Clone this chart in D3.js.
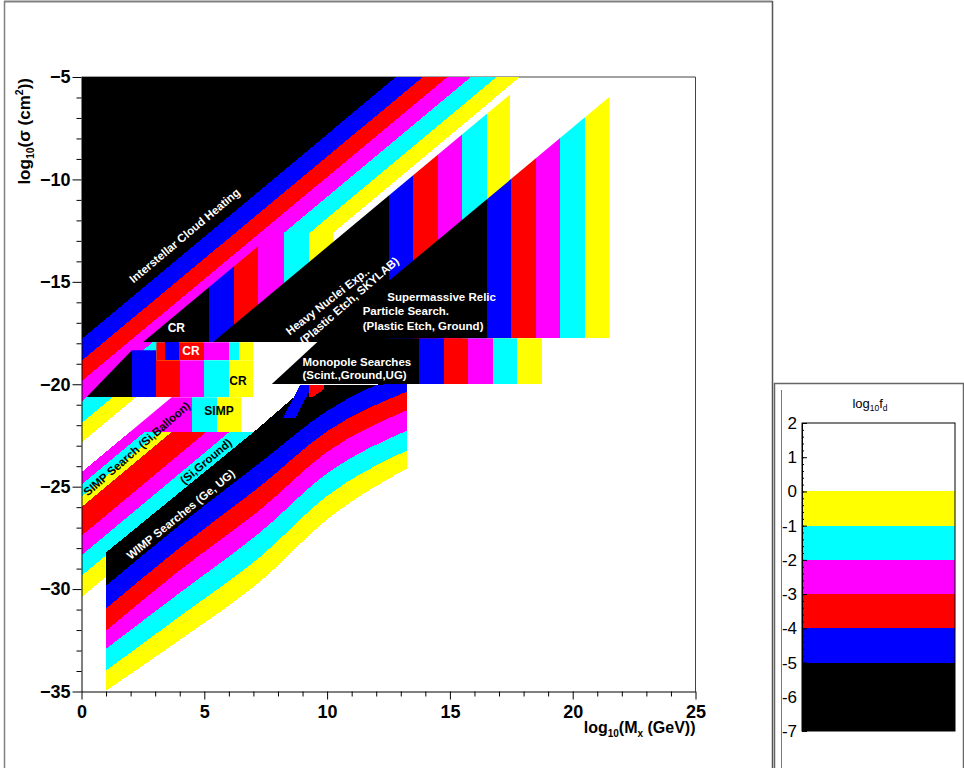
<!DOCTYPE html>
<html><head><meta charset="utf-8">
<script src="https://cdn.jsdelivr.net/npm/d3@7"></script>
<style>body{margin:0;background:#fff}svg{display:block}</style>
</head><body>
<svg id="c" width="964" height="768"></svg>
<script>
// ---------- DATA (log10 M [GeV], log10 sigma [cm^2]) ----------
// colour levels of log10 f_d : 0:<-5 black, 1:-5..-4 blue, 2:-4..-3 red, 3:-3..-2 magenta, 4:-2..-1 cyan, 5:-1..0 yellow
const levelColor = ["#000000","#0000ff","#ff0000","#ff00ff","#00ffff","#ffff00"];
const xTicks = [0,5,10,15,20,25];
const yTicks = [-5,-10,-15,-20,-25,-30,-35];
const legendTicks = [2,1,0,-1,-2,-3,-4,-5,-6,-7];
const legendBounds = [-7,-5,-4,-3,-2,-1,0];

// Interstellar cloud heating: level boundaries (black|blue ... yellow|white)
const ichLeftSigma = [-17.8,-18.85,-19.85,-20.85,-21.9,-22.85]; // log sigma at log M = 0
const ichTopMass   = [12.8,13.9,14.9,15.85,16.9,17.85];         // log M at log sigma = -5

// regions with mass (vertical) bands: band edges in log M for levels 0..5 and outline
const crUpperEdges = [2.5,5.2,6.2,7.2,8.25,9.25,10.25];
const crUpperShape = [[2.5,-17.95],[10.25,-10.2],[10.25,-17.95]];
const crLowEdges   = [0.2,2.05,3.05,4.0,5.0,6.0,7.0];
const crLowShape   = [[0.2,-20.63],[2.05,-18.34],[3.05,-18.34],[3.05,-18.83],[7.0,-18.83],[7.0,-20.63]];
const crTopEdges   = [3.05,3.05,3.05,5.0,6.0,6.4,7.0];
const crTopShape   = [[3.05,-17.95],[7.0,-17.95],[7.0,-18.83],[3.05,-18.83]];
const simpEdges    = [1.96,1.96,1.96,1.96,4.5,5.5,6.5];
const simpShape    = [[1.96,-22.34],[3.67,-20.63],[6.5,-20.63],[6.5,-22.34]];
const heavyEdges   = [5.35,12.5,13.5,14.5,15.5,16.5,17.45];
const heavyShape   = [[5.35,-17.95],[17.45,-5.85],[17.45,-17.95]];
const relicEdges   = [9.72,16.5,17.5,18.5,19.5,20.5,21.5];
const relicShape   = [[9.72,-17.75],[21.5,-5.97],[21.5,-17.75]];
const monoEdges    = [7.74,13.75,14.75,15.75,16.75,17.75,18.75];
const monoShape    = [[9.77,-17.75],[18.75,-17.75],[18.75,-20.0],[7.74,-20.0]];

// SIMP searches with Si detectors: diagonal strips (offset = log sigma - log M)
const balloonOffsets = [-24.3,-24.9,-25.5,-26.0];
const balloonLevels  = [3,4,5];
const groundOffsets  = [-26.0,-27.4,-28.35,-29.35,-30.4];
const groundLevels   = [2,3,4,5];
const siCapSigma     = -22.34;

// WIMP searches (Ge, UG): level boundaries sampled at these masses
const wimpMass = [1.01,3.98,7.3,10.0,13.27];
const wimpTop  = [[1.01,-28.2],[7.1,-22.24],[9.21,-20.05],[13.27,-20.0]];
const wimpBounds = [
  [-29.82,-26.89,-23.8,-21.3,-19.4],
  [-30.94,-28.0,-24.95,-22.3,-20.35],
  [-32.02,-29.1,-26.1,-23.3,-21.27],
  [-32.9,-30.2,-27.2,-24.35,-22.25],
  [-33.97,-31.35,-28.4,-25.45,-23.22],
  [-34.95,-32.5,-29.6,-26.6,-24.1]];

// small extra patches
const extraPatches = [
  {level:1, pts:[[3.41,-17.95],[3.98,-17.95],[3.98,-18.83],[3.41,-18.83]]},
  {level:1, pts:[[8.2,-21.66],[8.9,-20.05],[9.25,-20.05],[9.25,-20.4],[8.7,-21.66]]},
  {level:2, pts:[[9.25,-20.05],[9.86,-20.05],[9.86,-20.25],[9.4,-20.63],[9.25,-20.63]]}];

// annotations
const labels = [
  {t:"Interstellar Cloud Heating", m:4.2,  s:-12.74, a:-40, c:"#fff"},
  {t:"Heavy Nuclei Exp..",         m:10.02,s:-15.94, a:-38, c:"#fff"},
  {t:"(Plastic Etch, SKYLAB)",     m:10.9, s:-15.92, a:-41, c:"#fff"},
  {t:"SIMP Search (Si,Balloon)",   m:2.25, s:-23.15, a:-41, c:"#000"},
  {t:"(Si,Ground)",                m:5.07, s:-23.76, a:-40, c:"#000"},
  {t:"WIMP Searches (Ge, UG)",     m:4.04, s:-26.35, a:-39, c:"#fff"},
  {t:"CR", m:3.86, s:-17.26, a:0, c:"#fff"},
  {t:"CR", m:4.46, s:-18.39, a:0, c:"#fff"},
  {t:"CR", m:6.37, s:-19.85, a:0, c:"#000"},
  {t:"SIMP", m:5.6, s:-21.32, a:0, c:"#000"}];
const blockLabels = [
  {t:"Supermassive Relic",     m:12.45, s:-15.93},
  {t:"Particle Search.",       m:11.45, s:-16.63},
  {t:"(Plastic Etch, Ground)", m:11.45, s:-17.35},
  {t:"Monopole Searches",      m:9.0,  s:-19.1},
  {t:"(Scint.,Ground,UG)",     m:9.0,  s:-19.75}];

// ---------- DRAW ----------
const svg = d3.select("#c");
const defs = svg.append("defs");
const x = d3.scaleLinear().domain([0,25]).range([81.5,695.5]);
const y = d3.scaleLinear().domain([-35,-5]).range([691.5,77]);
const poly = pts => "M" + pts.map(p => x(p[0]) + "," + y(p[1])).join("L") + "Z";
const smooth = d3.line().x(p=>x(p[0])).y(p=>y(p[1])).curve(d3.curveMonotoneX);
const lin = d3.line().x(p=>x(p[0])).y(p=>y(p[1]));

// pad borders
const bc = "#808080";
svg.append("line").attr("x1",4).attr("x2",772.5).attr("y1",1.5).attr("y2",1.5).attr("stroke",bc).attr("stroke-width",2);
svg.append("line").attr("x1",4.5).attr("x2",4.5).attr("y1",1).attr("y2",768).attr("stroke",bc).attr("stroke-width",1.5);
svg.append("line").attr("x1",772.5).attr("x2",772.5).attr("y1",1).attr("y2",768).attr("stroke","#555").attr("stroke-width",1.5);

// frame (top/right)
svg.append("path").attr("d",`M${x(0)},${y(-5)}H${x(25)}V${y(-35)}`).attr("fill","none").attr("stroke","#444").attr("stroke-width",1);

defs.append("clipPath").attr("id","plotclip").append("rect")
  .attr("x",x(0)).attr("y",y(-5)).attr("width",x(25)-x(0)).attr("height",y(-35)-y(-5));

const shapes = [];
shapes.push({level:0, d:poly([[0,-5],[ichTopMass[0],-5],[0,ichLeftSigma[0]]])});
for (let k=1;k<6;k++) shapes.push({level:k, d:poly([[0,ichLeftSigma[k-1]],[ichTopMass[k-1],-5],[ichTopMass[k],-5],[0,ichLeftSigma[k]]])});

const bandRegions = [
  {id:"crup", edges:crUpperEdges, shape:crUpperShape},
  {id:"crlow", edges:crLowEdges, shape:crLowShape},
  {id:"crtop", edges:crTopEdges, shape:crTopShape},
  {id:"simp", edges:simpEdges, shape:simpShape},
  {id:"heavy", edges:heavyEdges, shape:heavyShape},
  {id:"relic", edges:relicEdges, shape:relicShape},
  {id:"mono", edges:monoEdges, shape:monoShape}];
bandRegions.forEach(r => {
  defs.append("clipPath").attr("id","clip-"+r.id).append("path").attr("d",poly(r.shape));
  const ys = r.shape.map(p=>p[1]); const lo=d3.min(ys), hi=d3.max(ys);
  for (let k=0;k<6;k++) if (r.edges[k+1] > r.edges[k])
    shapes.push({level:k, clip:r.id, d:poly([[r.edges[k],hi],[r.edges[k+1],hi],[r.edges[k+1],lo],[r.edges[k],lo]])});
});

function strips(offs, levels, cap){
  levels.forEach((lv,i) => {
    const a=offs[i], b=offs[i+1];
    shapes.push({level:lv, d:poly([[0,a],[cap-a,cap],[cap-b,cap],[0,b]])});
  });
}
strips(balloonOffsets, balloonLevels, siCapSigma);
strips(groundOffsets, groundLevels, siCapSigma);

const wline = k => wimpMass.map((m,i)=>[m,wimpBounds[k][i]]);
const joinPaths = (a,b) => a + b.replace(/^M/,"L") + "Z";
shapes.push({level:0, d: joinPaths(lin(wimpTop), smooth(wline(0).reverse()))});
for (let k=1;k<6;k++) shapes.push({level:k, d: joinPaths(smooth(wline(k-1)), smooth(wline(k).reverse()))});

const ordered = shapes.map((s,i)=>({...s,i})).sort((a,b)=> (b.level-a.level) || (a.i-b.i))
  .concat(extraPatches.map(p=>({level:p.level, d:poly(p.pts)})));

const plot = svg.append("g").attr("clip-path","url(#plotclip)");
plot.selectAll("path.band").data(ordered).join("path")
  .attr("class","band")
  .attr("d", d=>d.d)
  .attr("fill", d=>levelColor[d.level])
  .attr("shape-rendering","crispEdges")
  .attr("clip-path", d=> d.clip ? `url(#clip-${d.clip})` : null);

// labels
const lf = "'Liberation Sans', Arial, sans-serif";
const lg = svg.append("g").attr("font-family",lf).attr("font-weight","bold").attr("font-size","11.5px");
labels.forEach(l => {
  lg.append("text").attr("transform",`translate(${x(l.m)},${y(l.s)}) rotate(${l.a})`)
    .attr("text-anchor","middle").attr("dominant-baseline","central")
    .attr("fill",l.c).attr("font-size", l.a===0 ? "12px" : null).text(l.t);
});
blockLabels.forEach(l => {
  lg.append("text").attr("x",x(l.m)).attr("y",y(l.s)).attr("fill","#fff").text(l.t);
});

// axes
const af = "'Liberation Sans', Arial, sans-serif";
const yAxis = svg.append("g").attr("transform",`translate(${x(0)},0)`)
  .call(d3.axisLeft(y).tickValues(yTicks).tickSize(9).tickSizeOuter(0).tickPadding(2));
svg.append("g").attr("transform",`translate(${x(0)},0)`)
  .call(d3.axisLeft(y).tickValues(d3.range(-35,-4,1).filter(v=>v%5!==0)).tickSize(5).tickSizeOuter(0).tickFormat(""))
  .select(".domain").remove();
const xAxis = svg.append("g").attr("transform",`translate(0,${y(-35)})`)
  .call(d3.axisBottom(x).tickValues(xTicks).tickSize(8).tickSizeOuter(0).tickPadding(6));
svg.append("g").attr("transform",`translate(0,${y(-35)})`)
  .call(d3.axisBottom(x).tickValues(d3.range(0,26,1).filter(v=>v%5!==0)).tickSize(5).tickSizeOuter(0).tickFormat(""))
  .select(".domain").remove();
[yAxis,xAxis].forEach(g => g.selectAll("text").attr("font-family",af).attr("font-weight","bold").attr("font-size","18px").attr("fill","#000"));
svg.selectAll(".tick line, .domain").attr("stroke","#000");

// axis titles
const xt = svg.append("text").attr("x",x(25)).attr("y",733).attr("text-anchor","end")
  .attr("font-family",af).attr("font-weight","bold").attr("font-size","16px");
xt.append("tspan").text("log");
xt.append("tspan").attr("font-size","10px").attr("dy",4).text("10");
xt.append("tspan").attr("dy",-4).text("(M");
xt.append("tspan").attr("font-size","10px").attr("dy",4).text("x");
xt.append("tspan").attr("dy",-4).text(" (GeV))");

const yt = svg.append("text").attr("transform",`translate(30,${y(-5)+1}) rotate(-90)`).attr("text-anchor","end")
  .attr("font-family",af).attr("font-weight","bold").attr("font-size","17px");
yt.append("tspan").text("log");
yt.append("tspan").attr("font-size","10.5px").attr("dy",4).text("10");
yt.append("tspan").attr("dy",-4).text("(σ (cm");
yt.append("tspan").attr("font-size","10.5px").attr("dy",-7).text("2");
yt.append("tspan").attr("dy",7).text("))");

// ---------- LEGEND PAD ----------
svg.append("rect").attr("x",774.5).attr("y",383.5).attr("width",189).attr("height",390)
  .attr("fill","#fff").attr("stroke","#666").attr("stroke-width",1.5);
svg.append("line").attr("x1",781.5).attr("x2",781.5).attr("y1",390).attr("y2",768).attr("stroke","#777").attr("stroke-width",1);

const nf = "'Liberation Sans Narrow','Liberation Sans',Arial,sans-serif";
const lz = d3.scaleLinear().domain([-7,2]).range([731,423]);
const bx0 = 802, bx1 = 955;
const lgd = svg.append("g");
lgd.selectAll("rect.lv").data(d3.range(6)).join("rect").attr("class","lv")
  .attr("x",bx0).attr("width",bx1-bx0)
  .attr("y",k=>lz(legendBounds[k+1])).attr("height",k=>lz(legendBounds[k])-lz(legendBounds[k+1]))
  .attr("fill",k=>levelColor[k]).attr("shape-rendering","crispEdges");
lgd.append("rect").attr("x",bx0).attr("y",lz(2)).attr("width",bx1-bx0).attr("height",lz(-7)-lz(2))
  .attr("fill","none").attr("stroke","#000").attr("stroke-width",1);
const la = lgd.append("g").attr("transform",`translate(${bx0},0)`)
  .call(d3.axisLeft(lz).tickValues(legendTicks).tickSize(-5).tickSizeOuter(0).tickPadding(5)
    .tickFormat(d => d<0 ? "-"+Math.abs(d) : String(d)));
la.selectAll("text").attr("font-family",nf).attr("font-size","17px").attr("fill","#000");
lgd.append("g").attr("transform",`translate(${bx0},0)`)
  .call(d3.axisLeft(lz).tickValues(d3.range(-7,2.01,0.2)).tickSize(-2).tickSizeOuter(0).tickFormat(""))
  .select(".domain").remove();
lgd.selectAll(".tick line,.domain").attr("stroke","#000");

const lt = svg.append("text").attr("x",870).attr("y",408).attr("text-anchor","middle")
  .attr("font-family",nf).attr("font-size","13px");
lt.append("tspan").text("log");
lt.append("tspan").attr("font-size","8.5px").attr("dy",3).text("10");
lt.append("tspan").attr("dy",-3).text("f");
lt.append("tspan").attr("font-size","8.5px").attr("dy",3).text("d");
</script>
</body></html>
